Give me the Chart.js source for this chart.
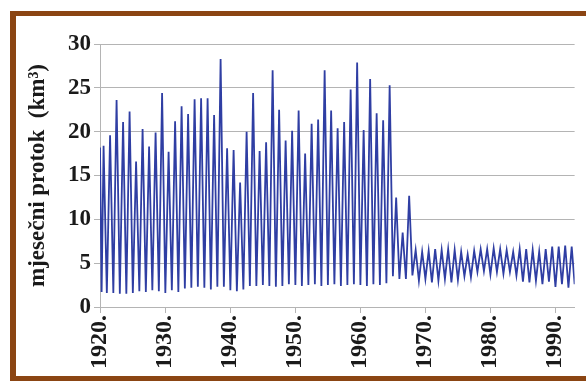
<!DOCTYPE html>
<html>
<head>
<meta charset="utf-8">
<script src="https://cdn.jsdelivr.net/npm/chart.js@4"></script>
<style>
  body { margin: 0; background: #fff; }
  #frame {
    position: absolute; left: 10px; top: 11px;
    width: 600px; height: 360px;
    border: 5px solid #8b4513; border-left-width: 6px;
  }
  #wrap { position: absolute; left: 0; top: 0; width: 586px; height: 381px; }
</style>
</head>
<body>
<div id="frame"></div>
<div id="wrap"><canvas id="flow" width="586" height="381"></canvas></div>
<script>
// monthly flow, one high-water peak and one low per year (km3)
const years = [];
for (let y = 1920; y <= 1992; y++) years.push(y);

const firstFlow = 18.2;   // value at the very start of the record
const lastFlow = 2.6;     // value at the end of the record

const peakFlow = [
  18.4, 19.6, 23.6, 21.1, 22.3, 16.6, 20.3, 18.3, 19.9, 24.4,   // 1920s
  17.7, 21.2, 22.9, 22.0, 23.7, 23.8, 23.8, 21.9, 28.3, 18.1,   // 1930s
  17.9, 14.2, 20.0, 24.4, 17.8, 18.8, 27.0, 22.5, 19.0, 20.1,   // 1940s
  22.4, 17.5, 20.9, 21.4, 27.0, 22.4, 20.4, 21.1, 24.8, 27.9,   // 1950s
  20.2, 26.0, 22.1, 21.3, 25.3, 12.5, 8.5, 12.7, 6.5, 6.3,      // 1960s
  6.4, 6.6, 6.5, 6.6, 6.5, 6.3, 6.0, 6.4, 6.6, 6.6,             // 1970s
  6.7, 6.6, 6.5, 6.3, 6.6, 6.6, 6.5, 6.3, 6.6, 6.9,             // 1980s
  6.9, 7.0, 6.9                                                 // 1990s
];

const lowFlow = [
  1.7, 1.6, 1.6, 1.5, 1.5, 1.6, 1.8, 1.7, 1.9, 1.8,
  1.6, 1.9, 1.7, 2.1, 2.2, 2.3, 2.2, 2.0, 2.3, 2.3,
  1.9, 1.8, 2.0, 2.4, 2.4, 2.5, 2.4, 2.3, 2.4, 2.6,
  2.5, 2.4, 2.5, 2.6, 2.4, 2.5, 2.6, 2.4, 2.5, 2.6,
  2.5, 2.4, 2.6, 2.5, 2.7, 3.5, 3.2, 3.2, 3.6, 3.0,
  3.2, 2.8, 3.0, 3.2, 2.8, 3.1, 3.5, 3.4, 4.0, 4.1,
  3.7, 4.0, 3.8, 4.0, 3.6, 2.9, 2.8, 3.0, 2.6, 2.9,
  2.3, 2.6, 2.2
];

const yTicks = [0, 5, 10, 15, 20, 25, 30];
const xTicks = [1920, 1930, 1940, 1950, 1960, 1970, 1980, 1990];

// low water early in the year, high water around mid-year
const points = [{ x: 1920, y: firstFlow }];
years.forEach((yr, i) => {
  points.push({ x: yr + (i === 0 ? 0.25 : 0.05), y: lowFlow[i] });
  points.push({ x: yr + 0.55, y: peakFlow[i] });
});
points.push({ x: 1993, y: lastFlow });

const serif = 'Liberation Serif';
const gridGray = '#b4b4b4';
const padLeft = 22;

new Chart(document.getElementById('flow'), {
  type: 'line',
  data: {
    datasets: [{
      data: points,
      borderColor: '#2f3ea3',
      borderWidth: 1.8,
      pointRadius: 0,
      tension: 0,
      fill: false
    }]
  },
  options: {
    responsive: false,
    animation: false,
    plugins: { legend: { display: false }, tooltip: { enabled: false } },
    layout: { padding: { left: padLeft, top: 44, right: 2, bottom: 0 } },
    scales: {
      x: {
        type: 'linear',
        min: 1920,
        max: 1993,
        afterBuildTicks: s => { s.ticks = xTicks.map(v => ({ value: v })); },
        afterFit: s => { s.height = 381 - 307; },
        ticks: {
          autoSkip: false,
          minRotation: 90,
          maxRotation: 90,
          padding: 2,
          color: '#1a1a1a',
          font: { family: serif, size: 24, weight: 'bold' },
          callback: v => v + '.'
        },
        grid: { drawOnChartArea: false, drawTicks: true, tickLength: 6, color: gridGray },
        border: { color: gridGray }
      },
      y: {
        min: 0,
        max: 30,
        afterBuildTicks: s => { s.ticks = yTicks.map(v => ({ value: v })); },
        afterFit: s => { s.width = 100 - padLeft; },
        ticks: {
          padding: 3,
          color: '#1a1a1a',
          font: { family: serif, size: 23, weight: 'bold' }
        },
        grid: { color: gridGray, tickLength: 6 },
        border: { color: gridGray },
        title: {
          display: true,
          text: 'mjesečni protok  (km³)',
          color: '#1a1a1a',
          font: { family: serif, size: 23, weight: 'bold' },
          padding: { top: 2, bottom: 2 }
        }
      }
    }
  }
});
</script>
</body>
</html>
